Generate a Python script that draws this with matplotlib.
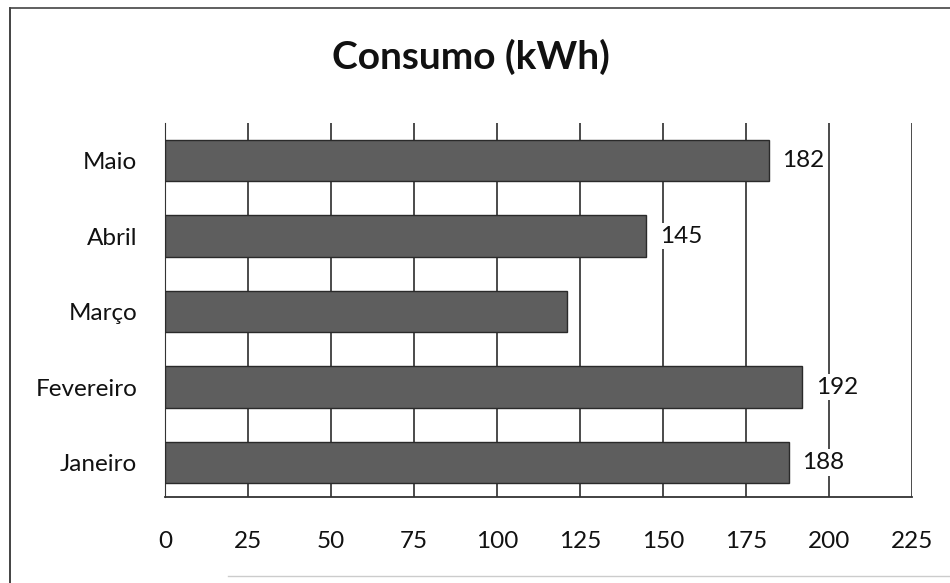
import matplotlib
matplotlib.use('Agg')
import matplotlib.pyplot as plt
from matplotlib.lines import Line2D

plt.rcParams['font.family'] = ['Lato', 'DejaVu Sans']

meses = ['Janeiro', 'Fevereiro', 'Março', 'Abril', 'Maio']
consumo = [188, 192, 121, 145, 182]
rotulos = ['188', '192', '', '145', '182']
xticks = [0, 25, 50, 75, 100, 125, 150, 175, 200, 225]

fig = plt.figure(figsize=(9.5, 5.83), dpi=100)
ax = fig.add_axes([0.1737, 0.147, 0.7863, 0.642])

ax.barh(range(len(meses)), consumo, height=0.55, color='#5e5e5e',
        edgecolor='#2a2a2a', linewidth=1, zorder=3)

for i, (v, lab) in enumerate(zip(consumo, rotulos)):
    if lab:
        ax.text(v + 4.0, i, lab, va='center', ha='left', fontsize=17.5,
                color='#111111', zorder=4,
                bbox=dict(facecolor='white', edgecolor='none', pad=2))

ax.set_xlim(0, 225)
ax.set_ylim(-0.46, 4.5)
ax.set_xticks(xticks)
ax.set_yticks(range(len(meses)))
ax.set_yticklabels(meses)
ax.grid(axis='x', color='#1a1a1a', lw=1.1, zorder=1)
ax.set_axisbelow(True)
ax.tick_params(axis='both', length=0, labelsize=17.5, colors='#111111')
ax.tick_params(axis='x', pad=24)
ax.tick_params(axis='y', pad=20)

for s in ['top', 'right']:
    ax.spines[s].set_visible(False)
ax.spines['left'].set_color('#333333')
ax.spines['bottom'].set_color('#333333')
ax.spines['bottom'].set_linewidth(1.3)

fig.text(0.496, 0.902, 'Consumo (kWh)', ha='center', va='center',
         fontsize=28, fontweight='bold', color='#111111')

# moldura do gráfico (scan)
fig.add_artist(Line2D([0.011, 0.011], [0.0, 0.986], color='#222222', lw=1.2))
fig.add_artist(Line2D([0.011, 1.0], [0.986, 0.986], color='#444444', lw=1.2))
fig.add_artist(Line2D([0.24, 1.0], [0.012, 0.012], color='#cccccc', lw=1.0))

plt.savefig('out.png', dpi=100)
